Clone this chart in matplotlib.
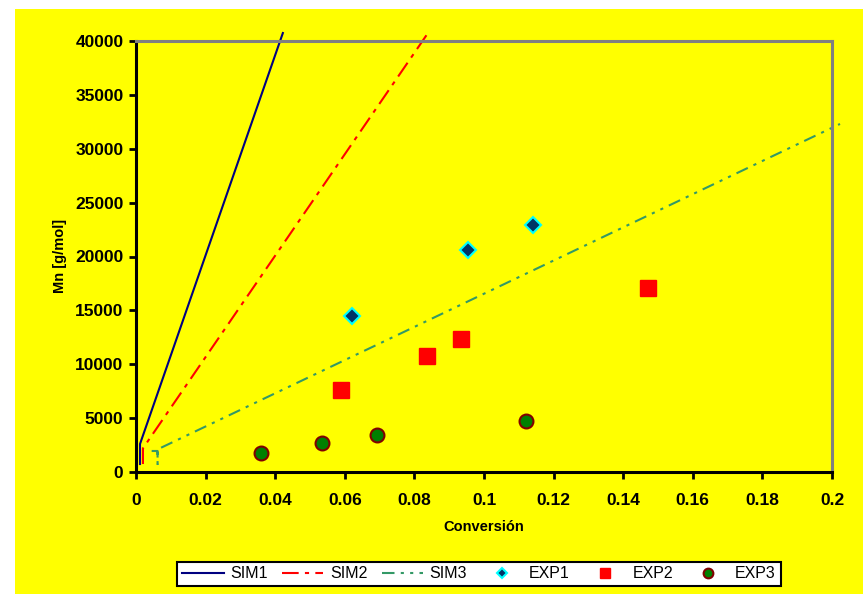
import numpy as np
import matplotlib.pyplot as plt
from matplotlib.patches import Rectangle

# simulated curves
sim1_x = [0.00115, 0.00115, 0.0422]
sim1_y = [740, 2600, 40740]
sim2_x = [0.0020, 0.0020, 0.0839]
sim2_y = [740, 2200, 40740]
sim3_x = [0.0045, 0.0062, 0.0062, 0.0062, 0.2023]
sim3_y = [1950, 1950, 740, 2100, 32300]

# experimental points
exp1_x = [0.0621, 0.0954, 0.1141]
exp1_y = [14480, 20600, 22920]
exp2_x = [0.0589, 0.0836, 0.0934, 0.1471]
exp2_y = [7610, 10770, 12340, 17080]
exp3_x = [0.0359, 0.0534, 0.0693, 0.1121]
exp3_y = [1760, 2690, 3430, 4730]

yellow = '#ffff00'
plt.rcParams['font.family'] = ['Liberation Sans', 'DejaVu Sans']

fig = plt.figure(figsize=(8.63, 5.94), dpi=100)
fig.patch.set_facecolor('white')
fig.patches.append(Rectangle((15 / 863, 0), 1, (594 - 9) / 594, transform=fig.transFigure,
                             facecolor=yellow, edgecolor='none', zorder=-10))

ax = fig.add_axes([136 / 863, 1 - 472 / 594, 696 / 863, 431 / 594])
ax.set_facecolor(yellow)

l1, = ax.plot(sim1_x, sim1_y, color='#000080', lw=1.5, clip_on=False, label='SIM1')
l2, = ax.plot(sim2_x, sim2_y, color='#ff0000', lw=1.5, dashes=(8, 3, 2, 3), clip_on=False, label='SIM2')
l3, = ax.plot(sim3_x, sim3_y, color='#339966', lw=1.5, dashes=(6, 3, 1.5, 3, 1.5, 3), clip_on=False, label='SIM3')

p1, = ax.plot(exp1_x, exp1_y, ls='none', marker='D', ms=8, mfc='#003366', mec='#00ffff', mew=1.5, label='EXP1')
p2, = ax.plot(exp2_x, exp2_y, ls='none', marker='s', ms=11, mfc='#ff0000', mec='#ff0000', label='EXP2')
p3, = ax.plot(exp3_x, exp3_y, ls='none', marker='o', ms=10, mfc='#008000', mec='#800000', mew=1.5, label='EXP3')

ax.set_xlim(0, 0.2)
ax.set_ylim(0, 40000)
ax.set_xticks(np.arange(0, 0.2001, 0.02))
ax.set_yticks(np.arange(0, 40001, 5000))
ax.set_xticklabels([f'{v:g}' for v in np.round(np.arange(0, 0.2001, 0.02), 2)])
ax.set_yticklabels([f'{int(v)}' for v in np.arange(0, 40001, 5000)])
ax.tick_params(direction='out', length=5, width=2, labelsize=12.5, pad=4)
for lab in ax.get_xticklabels() + ax.get_yticklabels():
    lab.set_fontweight('bold')
ax.tick_params(axis='x', pad=10)

for s in ['left', 'bottom']:
    ax.spines[s].set_linewidth(2.2)
    ax.spines[s].set_color('black')
for s in ['top', 'right']:
    ax.spines[s].set_linewidth(2.2)
    ax.spines[s].set_color('#808080')

fig.text(484 / 863, 1 - 527 / 594, 'Conversión', ha='center', va='center', fontsize=10.5, fontweight='bold')
fig.text(60 / 863, 1 - 256 / 594, 'Mn [g/mol]', ha='center', va='center', rotation=90,
         fontsize=10.5, fontweight='bold')

leg = fig.legend(handles=[l1, l2, l3, p1, p2, p3], loc='center', ncol=6,
                 bbox_to_anchor=(479 / 863, 1 - 574 / 594), frameon=True, fancybox=False,
                 fontsize=11.5, handlelength=2.6, handletextpad=0.4, columnspacing=0.9,
                 borderpad=0.3, markerscale=0.7)
leg.get_frame().set_edgecolor('black')
leg.get_frame().set_linewidth(1.5)
leg.get_frame().set_facecolor('white')
leg.get_frame().set_alpha(1)

fig.savefig('out.png', dpi=100, facecolor=fig.get_facecolor())
